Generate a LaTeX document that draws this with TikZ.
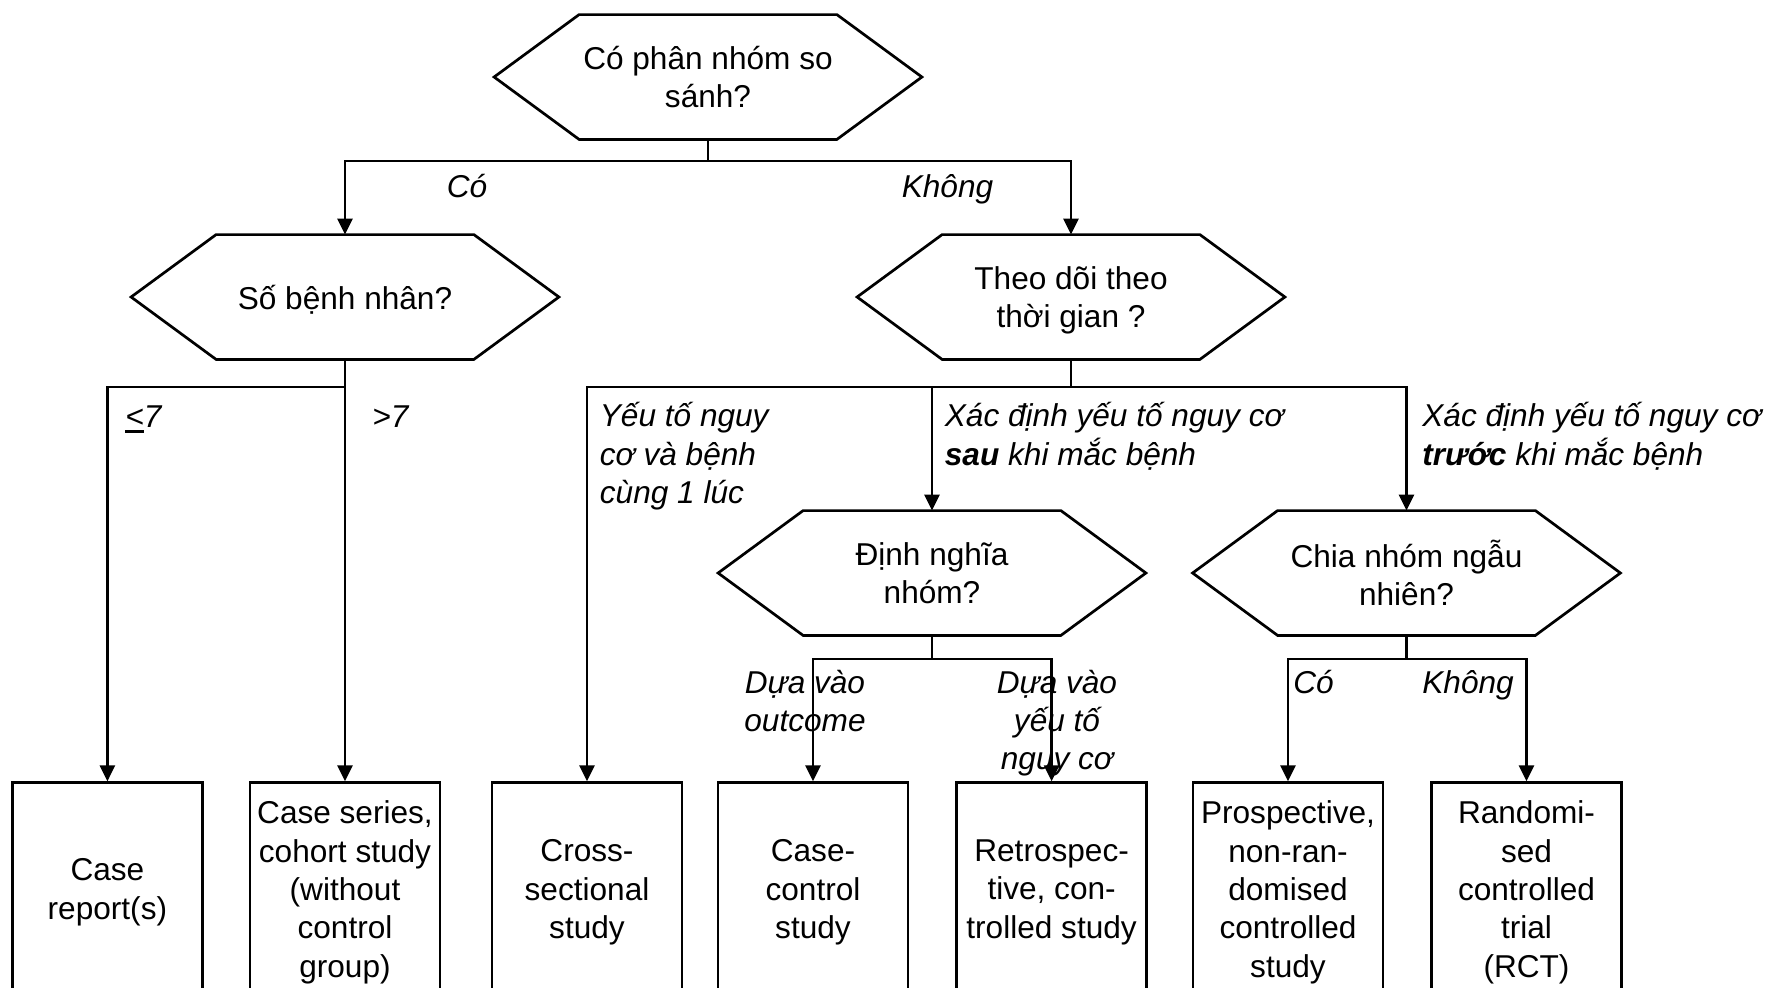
\documentclass[tikz,border=0pt]{standalone}
\usepackage{fontspec}
\setmainfont{Liberation Sans}
\usetikzlibrary{arrows.meta}

% type sizes used throughout the chart
\newcommand\chartfont{\fontsize{15.8pt}{19.2pt}\selectfont}
\newcommand\branchfont{\fontsize{15.8pt}{19.2pt}\selectfont\itshape}

% hexagonal outline around a question node
\newcommand\hexshape[1]{%
  \draw[frame] (#1.west) -- ([xshift=42.5pt]#1.north west)
    -- ([xshift=-42.5pt]#1.north east) -- (#1.east)
    -- ([xshift=-42.5pt]#1.south east) -- ([xshift=42.5pt]#1.south west) -- cycle;}

\tikzset{
  frame/.style={draw=black, line width=1.35pt},
  wire/.style={draw=black, line width=1.35pt},
  arr/.style={wire, -{Triangle[length=8pt,width=7.5pt]}},
  question/.style={minimum width=213.5pt, minimum height=62pt, inner sep=0pt,
                   text depth=0pt, align=center, font=\chartfont},
  studybox/.style={frame, minimum width=95pt, minimum height=106.3pt, inner sep=0pt,
                   text depth=0pt, align=center, font=\chartfont},
  branch/.style={font=\branchfont, inner sep=0pt, align=left},
}

\begin{document}
\begin{tikzpicture}[x=0.5pt, y=-0.5pt]
\useasboundingbox (0,0) rectangle (1773,987);
\clip (0,0) rectangle (1773,987);

% questions
\node[question] (q1) at (708,77)    {Có phân nhóm so\\sánh?};
\node[question] (q2) at (345,297)   {Số bệnh nhân?};
\node[question] (q3) at (1071,297)  {Theo dõi theo\\thời gian ?};
\node[question] (q4) at (932,573)   {Định nghĩa\\nhóm?};
\node[question] (q5) at (1406.5,573){Chia nhóm ngẫu\\nhiên?};
\foreach \q in {q1,q2,q3,q4,q5} {\hexshape{\q}}

% study designs
\node[studybox] (b1) at (107.4,889)  {Case\\report(s)};
\node[studybox] (b2) at (345,889)    {Case series,\\cohort study\\(without\\control\\group)};
\node[studybox] (b3) at (587,889)    {Cross-\\sectional\\study};
\node[studybox] (b4) at (813,889)    {Case-\\control\\study};
\node[studybox] (b5) at (1051.6,889) {Retrospec-\\tive, con-\\trolled study};
\node[studybox] (b6) at (1288,889)   {Prospective,\\non-ran-\\domised\\controlled\\study};
\node[studybox] (b7) at (1526.5,889) {Randomi-\\sed\\controlled\\trial\\(RCT)};

% branching points
\coordinate (j1) at (708,161);
\coordinate (j2) at (345,387);
\coordinate (j3) at (1071,387);
\coordinate (j4) at (932,659);
\coordinate (j5) at (1406.5,659);

% connectors
\draw[wire] (q1.south) -- (j1);
\draw[arr] (j1) -| (q2.north);
\draw[arr] (j1) -| (q3.north);

\draw[wire] (q2.south) -- (j2);
\draw[arr] (j2) -| (b1.north);
\draw[arr] (j2) -- (b2.north);

\draw[wire] (q3.south) -- (j3);
\draw[arr] (j3) -| (b3.north);
\draw[arr] (j3) -| (q4.north);
\draw[arr] (j3) -| (q5.north);

\draw[wire] (q4.south) -- (j4);
\draw[arr] (j4) -| (b4.north);
\draw[arr] (j4) -| (b5.north);

\draw[wire] (q5.south) -- (j5);
\draw[arr] (j5) -| (b6.north);
\draw[arr] (j5) -| (b7.north);

% branch labels (base anchor sits on the last line of a block)
\node[branch, anchor=base] (lyes) at (467,197) {Có};
\node[branch, anchor=base] (lno) at (947.5,197) {Không};
\node[branch, anchor=base west] (lle) at (125,427)
  {\makebox[0pt][l]{\rule[-3pt]{9.5pt}{1.5pt}}<7};
\node[branch, anchor=base west] (lgt) at (372,427) {>7};
\node[branch, anchor=base west] (lsame) at (599.5,503.5) {Yếu tố nguy\\cơ và bệnh\\cùng 1 lúc};
\node[branch, anchor=base west] (lafter) at (944.5,465)
  {Xác định yếu tố nguy cơ\\\textbf{sau} khi mắc bệnh};
\node[branch, anchor=base west] (lbefore) at (1422,465)
  {Xác định yếu tố nguy cơ\\\textbf{trước} khi mắc bệnh};
\node[branch, anchor=base, align=center] (lout) at (805,731.4) {Dựa vào\\outcome};
\node[branch, anchor=base, align=center] (lrisk) at (1057,769.8) {Dựa vào\\yếu tố\\nguy cơ};
\node[branch, anchor=base west] (lrand) at (1293,693) {Có};
\node[branch, anchor=base west] (lnorand) at (1422,693) {Không};
\end{tikzpicture}
\end{document}
